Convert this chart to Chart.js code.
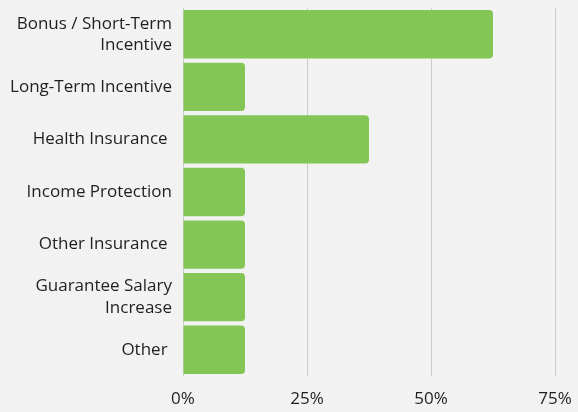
<!DOCTYPE html>
<html lang="en">
<head>
  <meta charset="UTF-8" />
  <title>Benefits</title>
  <script src="https://cdn.jsdelivr.net/npm/chart.js"></script>
  <style>
    html, body { margin: 0; padding: 0; background: #f2f2f2; }
    #wrap { width: 578px; height: 412px; }
  </style>
</head>
<body>
  <div id="wrap"><canvas id="benefitChart"></canvas></div>
  <script>
    const categories = [
      ['Bonus / Short-Term', 'Incentive'],
      'Long-Term Incentive',
      'Health Insurance ',
      'Income Protection',
      'Other Insurance ',
      ['Guarantee Salary', 'Increase'],
      'Other '
    ];
    const shares = [62.5, 12.5, 37.5, 12.5, 12.5, 12.5, 12.5];
    const xTicks = [0, 25, 50, 75];

    const ctx = document.getElementById('benefitChart').getContext('2d');
    new Chart(ctx, {
      type: 'bar',
      data: {
        labels: categories,
        datasets: [{
          data: shares,
          backgroundColor: '#84c655',
          borderRadius: { topRight: 4, bottomRight: 4 },
          borderSkipped: 'left',
          categoryPercentage: 0.92,
          barPercentage: 1
        }]
      },
      options: {
        indexAxis: 'y',
        responsive: true,
        maintainAspectRatio: false,
        animation: false,
        layout: { padding: { top: 8, right: 23, left: 0, bottom: 0 } },
        plugins: {
          legend: { display: false },
          tooltip: { enabled: false }
        },
        scales: {
          x: {
            min: 0,
            max: 75,
            afterBuildTicks: axis => { axis.ticks = xTicks.map(v => ({ value: v })); },
            afterFit: axis => {
              axis.height = 36;
              axis.paddingLeft = 0;
              axis.paddingRight = 0;
            },
            border: { display: false },
            grid: { color: '#cccccc', drawTicks: false },
            ticks: {
              padding: 13,
              color: '#1f1f1f',
              font: { family: 'Open Sans', size: 17 },
              callback: val => val + '%'
            }
          },
          y: {
            afterFit: axis => {
              axis.width = 183;
              axis.paddingTop = 0;
              axis.paddingBottom = 0;
            },
            border: { display: false },
            grid: { display: false, drawTicks: false },
            ticks: {
              padding: 11,
              color: '#1f1f1f',
              font: { family: 'Open Sans', size: 17, lineHeight: 1.25 }
            }
          }
        }
      }
    });
  </script>
</body>
</html>
